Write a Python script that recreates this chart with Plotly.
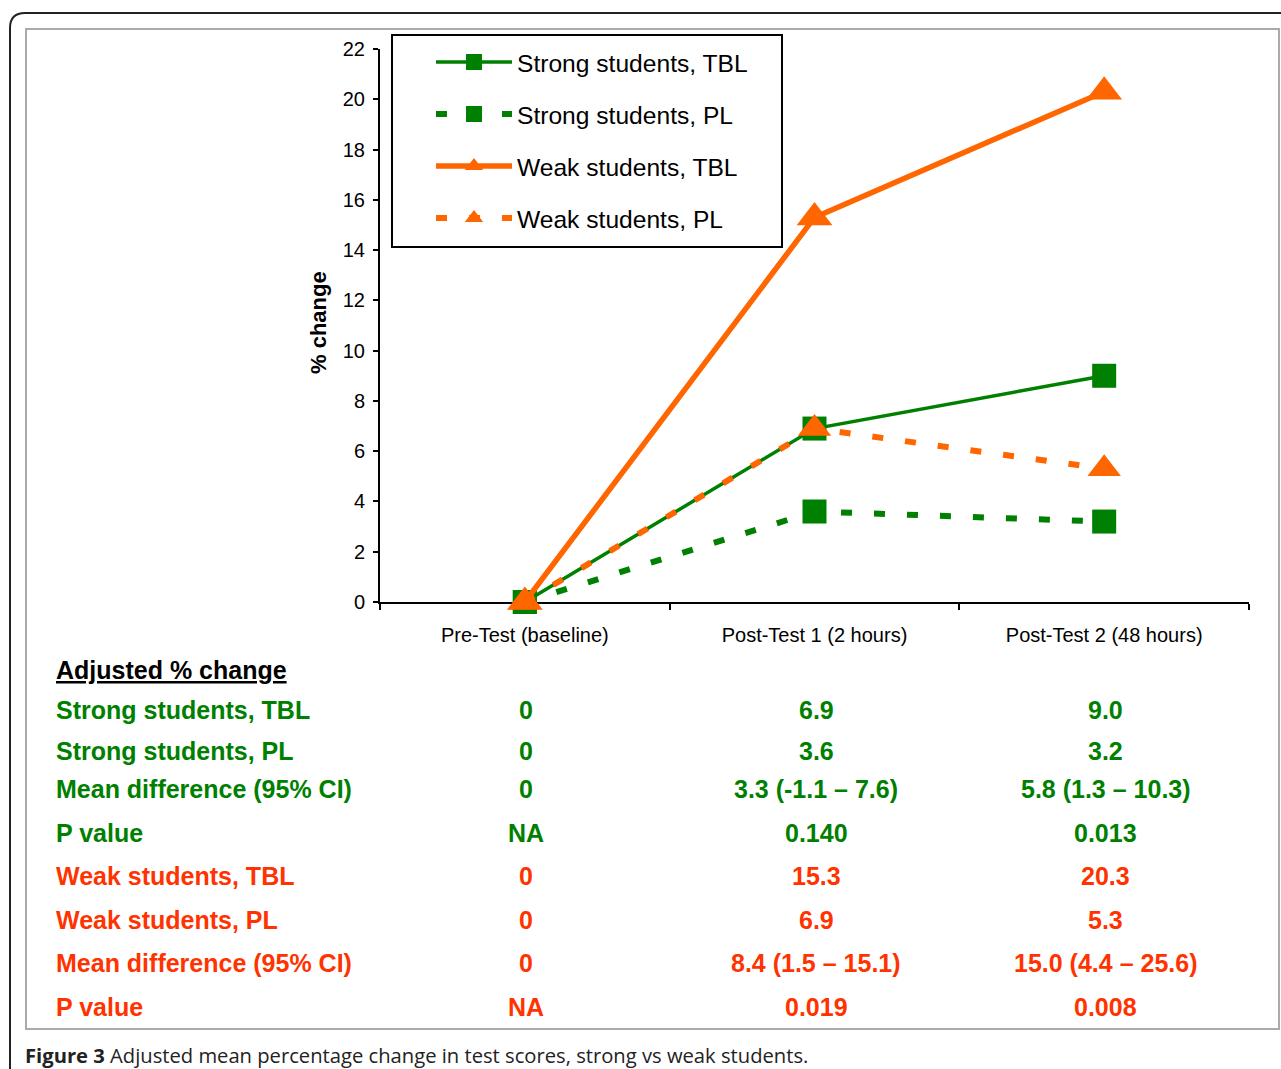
import plotly.graph_objects as go

# ---------------- data ----------------
categories = ["Pre-Test (baseline)", "Post-Test 1 (2 hours)", "Post-Test 2 (48 hours)"]
strong_tbl = [0, 6.9, 9.0]
strong_pl = [0, 3.6, 3.2]
weak_tbl = [0, 15.3, 20.3]
weak_pl = [0, 6.9, 5.3]

table_title = "Adjusted % change"
row_labels = ["Strong students, TBL", "Strong students, PL", "Mean difference (95% CI)", "P value",
              "Weak students, TBL", "Weak students, PL", "Mean difference (95% CI)", "P value"]
row_groups = ["strong", "strong", "strong", "strong", "weak", "weak", "weak", "weak"]
col_pre = ["0", "0", "0", "NA", "0", "0", "0", "NA"]
col_post1 = ["6.9", "3.6", "3.3 (-1.1 – 7.6)", "0.140", "15.3", "6.9", "8.4 (1.5 – 15.1)", "0.019"]
col_post2 = ["9.0", "3.2", "5.8 (1.3 – 10.3)", "0.013", "20.3", "5.3", "15.0 (4.4 – 25.6)", "0.008"]

caption_bold = "Figure 3"
caption_text = "Adjusted mean percentage change in test scores, strong vs weak students."

# ---------------- styling / layout ----------------
W, H = 1281, 1069
L, R, T, B = 380, 1249, 49, 602  # plot area in pixels
GREEN = "#008000"
ORANGE = "#FF6600"
RED = "#FF3300"
FONT = "Arial, Liberation Sans, sans-serif"


def px2x(px):
    return (px - L) / (R - L)


def px2y(py):
    return (B - py) / (B - T)


fig = go.Figure()

fig.add_trace(go.Scatter(
    x=categories, y=strong_tbl, name="Strong students, TBL", legendgroup="a",
    mode="lines+markers", line=dict(color=GREEN, width=3.5),
    marker=dict(symbol="square", size=24, color=GREEN), cliponaxis=False))
fig.add_trace(go.Scatter(
    x=categories, y=strong_pl, name="Strong students, PL", legendgroup="b",
    mode="lines+markers", line=dict(color=GREEN, width=6, dash="11px,22px"),
    marker=dict(symbol="square", size=24, color=GREEN), cliponaxis=False))
fig.add_trace(go.Scatter(
    x=categories, y=weak_tbl, name="Weak students, TBL", legendgroup="c",
    mode="lines+markers", line=dict(color=ORANGE, width=5.5),
    marker=dict(symbol="triangle-up", size=31, color=ORANGE), cliponaxis=False))
fig.add_trace(go.Scatter(
    x=categories, y=weak_pl, name="Weak students, PL", legendgroup="d",
    mode="lines+markers", line=dict(color=ORANGE, width=6, dash="11px,22px"),
    marker=dict(symbol="triangle-up", size=29, color=ORANGE), cliponaxis=False))

annotations = []
# y-axis title
annotations.append(dict(
    text="<b>% change</b>", textangle=-90, xref="paper", yref="paper",
    x=px2x(318), y=px2y(323), xanchor="center", yanchor="middle", showarrow=False,
    font=dict(family=FONT, size=22, color="black")))

# table
row_y = [710, 751, 789, 833, 876, 920, 963, 1007]
annotations.append(dict(
    text="<b><u>" + table_title + "</u></b>", xref="paper", yref="paper",
    x=px2x(54), y=px2y(670), xanchor="left", yanchor="middle", showarrow=False,
    font=dict(family=FONT, size=25, color="black")))
for i, lab in enumerate(row_labels):
    col = GREEN if row_groups[i] == "strong" else RED
    annotations.append(dict(
        text="<b>" + lab + "</b>", xref="paper", yref="paper",
        x=px2x(54), y=px2y(row_y[i]), xanchor="left", yanchor="middle", showarrow=False,
        font=dict(family=FONT, size=25, color=col)))
    for cat, colvals in zip(categories, [col_pre, col_post1, col_post2]):
        annotations.append(dict(
            text="<b>" + colvals[i] + "</b>", xref="x", yref="paper",
            x=cat, y=px2y(row_y[i]), xanchor="center", yanchor="middle", showarrow=False,
            xshift=1.5, font=dict(family=FONT, size=25, color=col)))

# caption
annotations.append(dict(
    text="<b>" + caption_bold + "</b> " + caption_text, xref="paper", yref="paper",
    x=px2x(23), y=px2y(1055), xanchor="left", yanchor="middle", showarrow=False,
    font=dict(family="Open Sans, Noto Sans, sans-serif", size=20.2, color="#222222")))

shapes = [
    # legend box
    dict(type="rect", xref="paper", yref="paper", x0=px2x(392), x1=px2x(782),
         y0=px2y(35), y1=px2y(247), line=dict(color="black", width=2), fillcolor="rgba(0,0,0,0)"),
    # inner gray frame
    dict(type="rect", xref="paper", yref="paper", x0=px2x(26), x1=px2x(1279),
         y0=px2y(29), y1=px2y(1029), line=dict(color="#aaaaaa", width=2), layer="below"),
    # outer rounded frame (top-left)
    dict(type="path", xref="paper", yref="paper",
         path="M {a},{b} L {a},{c} Q {a},{d} {e},{d} L {f},{d}".format(
             a=px2x(10), b=px2y(1075), c=px2y(28), d=px2y(13), e=px2x(25), f=px2x(1290)),
         line=dict(color="#222222", width=2)),
]

fig.update_layout(
    width=W, height=H, autosize=False,
    margin=dict(l=L, r=W - R, t=T, b=H - B, pad=0),
    paper_bgcolor="white", plot_bgcolor="white",
    font=dict(family=FONT, color="black"),
    showlegend=True,
    legend=dict(x=px2x(431), y=px2y(39.5), xanchor="left", yanchor="top",
                bgcolor="rgba(0,0,0,0)", borderwidth=0, tracegroupgap=17,
                itemwidth=76, font=dict(family=FONT, size=24.6, color="black"),
                itemsizing="trace"),
    annotations=annotations,
    shapes=shapes,
    xaxis=dict(type="category", range=[-0.5, 2.5], tickson="boundaries", ticks="outside",
               ticklen=6, tickwidth=2, tickcolor="black", showline=True, linecolor="black",
               linewidth=2, showgrid=False, zeroline=False, layer="below traces",
               tickfont=dict(family=FONT, size=20, color="black"), ticklabelstandoff=14),
    yaxis=dict(range=[0, 22], dtick=2, ticks="outside", ticklen=5, tickwidth=2, tickcolor="black",
               showline=True, linecolor="black", linewidth=2, showgrid=False, zeroline=False,
               layer="below traces", tickfont=dict(family=FONT, size=20, color="black"),
               ticklabelstandoff=4),
)

fig.write_html("out.html", config={"displayModeBar": False},
               post_script="document.body.style.margin='0px';")
